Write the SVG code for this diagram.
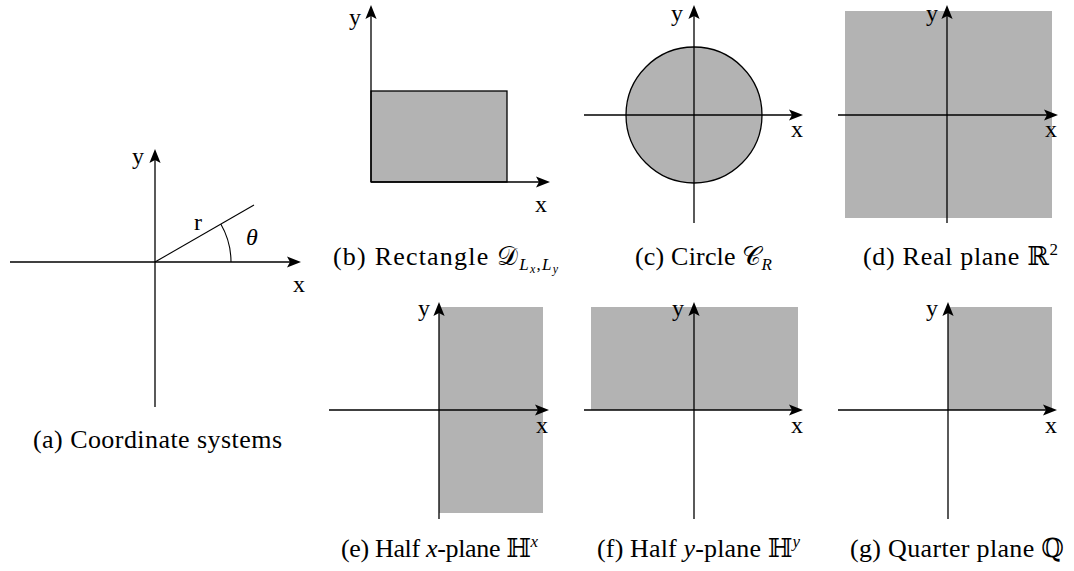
<svg xmlns="http://www.w3.org/2000/svg" width="1074" height="571" viewBox="0 0 1074 571">
<style>
.ax{stroke:#000;stroke-width:1.3;fill:none;marker-end:url(#arr)}
.ln{stroke:#000;stroke-width:1.1;fill:none}
.sh{fill:#b3b3b3}
.lb{font-family:"Liberation Serif","DejaVu Serif",serif;font-size:24px;fill:#000;text-anchor:middle}
.cp{font-family:"Liberation Serif","DejaVu Serif",serif;font-size:26px;fill:#000}
.it{font-style:italic}
.sb{font-size:17px}
.ss{font-size:12px}
</style>
<defs>
<marker id="arr" viewBox="-10 -7 17 14" markerWidth="17" markerHeight="14" refX="0" refY="0" orient="auto" markerUnits="userSpaceOnUse">
<path d="M6,0 L-8,-5.6 L-5,0 L-8,5.6 Z" fill="#000"/>
</marker>
</defs>

<g id="panel-a">
<line class="ax" x1="10" y1="262" x2="295" y2="262"/>
<line class="ax" x1="155" y1="407" x2="155" y2="155"/>
<line class="ln" x1="155" y1="262" x2="254" y2="205"/>
<path class="ln" d="M231,262 A76,76 0 0 0 220.8,224"/>
<text class="lb" x="138" y="164">y</text>
<text class="lb" x="299" y="292">x</text>
<text class="lb" x="198" y="230">r</text>
<text class="lb it" x="252" y="245">θ</text>
<text class="cp" x="33" y="448" textLength="249">(a) Coordinate systems</text>
</g>

<g id="panel-b">
<rect class="sh" x="371" y="91" width="136" height="91" stroke="#000" stroke-width="1.3"/>
<line class="ax" x1="371" y1="182" x2="544" y2="182"/>
<line class="ax" x1="371" y1="182" x2="371" y2="11"/>
<text class="lb" x="355" y="25">y</text>
<text class="lb" x="541" y="212">x</text>
<text class="cp" x="333" y="265" textLength="225">(b) Rectangle 𝒟<tspan class="sb it" dy="5">L</tspan><tspan class="it ss" dy="3">x</tspan><tspan class="sb" dy="-3">,</tspan><tspan class="sb it">L</tspan><tspan class="it ss" dy="3">y</tspan></text>
</g>

<g id="panel-c">
<circle class="sh" cx="694" cy="115" r="68" stroke="#000" stroke-width="1.3"/>
<line class="ax" x1="584" y1="115" x2="797" y2="115"/>
<line class="ax" x1="694" y1="223" x2="694" y2="11"/>
<text class="lb" x="677" y="21">y</text>
<text class="lb" x="797" y="137">x</text>
<text class="cp" x="635" y="265" textLength="137">(c) Circle 𝒞<tspan class="sb it" dy="5">R</tspan></text>
</g>

<g id="panel-d">
<rect class="sh" x="845" y="11" width="207" height="207"/>
<line class="ax" x1="838" y1="115" x2="1052" y2="115"/>
<line class="ax" x1="947" y1="223" x2="947" y2="11"/>
<text class="lb" x="932" y="21">y</text>
<text class="lb" x="1051" y="137">x</text>
<text class="cp" x="863" y="265" textLength="195">(d) Real plane ℝ<tspan class="sb" dy="-10">2</tspan></text>
</g>

<g id="panel-e">
<rect class="sh" x="439" y="307" width="104" height="206"/>
<line class="ax" x1="329" y1="410" x2="543" y2="410"/>
<line class="ax" x1="439" y1="519" x2="439" y2="308"/>
<text class="lb" x="424" y="316">y</text>
<text class="lb" x="542" y="433">x</text>
<text class="cp" x="341" y="557" textLength="197">(e) Half <tspan class="it">x</tspan>-plane ℍ<tspan class="sb it" dy="-10">x</tspan></text>
</g>

<g id="panel-f">
<rect class="sh" x="591" y="307" width="207" height="103"/>
<line class="ax" x1="584" y1="410" x2="797" y2="410"/>
<line class="ax" x1="694" y1="519" x2="694" y2="308"/>
<text class="lb" x="678" y="316">y</text>
<text class="lb" x="797" y="433">x</text>
<text class="cp" x="597" y="557" textLength="203">(f) Half <tspan class="it">y</tspan>-plane ℍ<tspan class="sb it" dy="-10">y</tspan></text>
</g>

<g id="panel-g">
<rect class="sh" x="948" y="307" width="104" height="103"/>
<line class="ax" x1="838" y1="410" x2="1051" y2="410"/>
<line class="ax" x1="948" y1="519" x2="948" y2="308"/>
<text class="lb" x="932" y="316">y</text>
<text class="lb" x="1051" y="433">x</text>
<text class="cp" x="850" y="557" textLength="214">(g) Quarter plane ℚ</text>
</g>
</svg>
